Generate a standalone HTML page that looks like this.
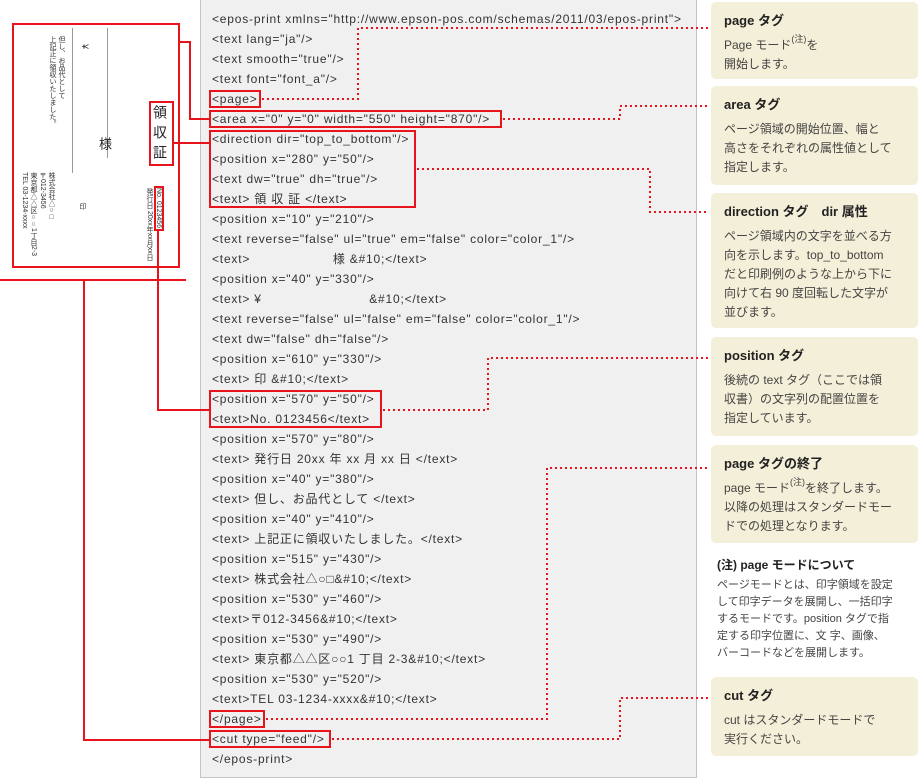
<!DOCTYPE html>
<html><head><meta charset="utf-8"><style>
*{margin:0;padding:0;box-sizing:border-box}
body{width:920px;height:779px;background:#fff;position:relative;overflow:hidden;font-family:"Liberation Sans","Noto Sans CJK JP",sans-serif;color:#333}
.code{position:absolute;left:200px;top:-2px;width:497px;height:780px;background:#f0f0f0;border:1px solid #c4c4c4}
.ln{position:absolute;left:212px;font-size:12px;letter-spacing:0.8px;line-height:14px;color:#333;white-space:pre}
.box{position:absolute;left:711px;width:207px;background:#f4efd8;border-radius:5px;padding:10px 0 0 13px}
.box h4{font-size:13px;font-weight:bold;color:#222;margin-bottom:6px;line-height:18px}
.box p{font-size:12px;line-height:19px;color:#444}
sup{font-size:9px;vertical-align:top;line-height:0;position:relative;top:3px}
.v{position:absolute;writing-mode:vertical-rl;font-size:7px;color:#333;line-height:9px}
</style></head><body>
<div class="code"></div>
<div class="ln" style="top:12px">&lt;epos-print xmlns="http://www.epson-pos.com/schemas/2011/03/epos-print"&gt;</div>
<div class="ln" style="top:32px">&lt;text lang="ja"/&gt;</div>
<div class="ln" style="top:52px">&lt;text smooth="true"/&gt;</div>
<div class="ln" style="top:72px">&lt;text font="font_a"/&gt;</div>
<div class="ln" style="top:92px">&lt;page&gt;</div>
<div class="ln" style="top:112px">&lt;area x="0" y="0" width="550" height="870"/&gt;</div>
<div class="ln" style="top:132px">&lt;direction dir="top_to_bottom"/&gt;</div>
<div class="ln" style="top:152px">&lt;position x="280" y="50"/&gt;</div>
<div class="ln" style="top:172px">&lt;text dw="true" dh="true"/&gt;</div>
<div class="ln" style="top:192px">&lt;text&gt; 領 収 証 &lt;/text&gt;</div>
<div class="ln" style="top:212px">&lt;position x="10" y="210"/&gt;</div>
<div class="ln" style="top:232px">&lt;text reverse="false" ul="true" em="false" color="color_1"/&gt;</div>
<div class="ln" style="top:252px">&lt;text&gt;                    様 &amp;#10;&lt;/text&gt;</div>
<div class="ln" style="top:272px">&lt;position x="40" y="330"/&gt;</div>
<div class="ln" style="top:292px">&lt;text&gt; ¥                          &amp;#10;&lt;/text&gt;</div>
<div class="ln" style="top:312px">&lt;text reverse="false" ul="false" em="false" color="color_1"/&gt;</div>
<div class="ln" style="top:332px">&lt;text dw="false" dh="false"/&gt;</div>
<div class="ln" style="top:352px">&lt;position x="610" y="330"/&gt;</div>
<div class="ln" style="top:372px">&lt;text&gt; 印 &amp;#10;&lt;/text&gt;</div>
<div class="ln" style="top:392px">&lt;position x="570" y="50"/&gt;</div>
<div class="ln" style="top:412px">&lt;text&gt;No. 0123456&lt;/text&gt;</div>
<div class="ln" style="top:432px">&lt;position x="570" y="80"/&gt;</div>
<div class="ln" style="top:452px">&lt;text&gt; 発行日 20xx 年 xx 月 xx 日 &lt;/text&gt;</div>
<div class="ln" style="top:472px">&lt;position x="40" y="380"/&gt;</div>
<div class="ln" style="top:492px">&lt;text&gt; 但し、お品代として &lt;/text&gt;</div>
<div class="ln" style="top:512px">&lt;position x="40" y="410"/&gt;</div>
<div class="ln" style="top:532px">&lt;text&gt; 上記正に領収いたしました。&lt;/text&gt;</div>
<div class="ln" style="top:552px">&lt;position x="515" y="430"/&gt;</div>
<div class="ln" style="top:572px">&lt;text&gt; 株式会社△○□&amp;#10;&lt;/text&gt;</div>
<div class="ln" style="top:592px">&lt;position x="530" y="460"/&gt;</div>
<div class="ln" style="top:612px">&lt;text&gt;〒012-3456&amp;#10;&lt;/text&gt;</div>
<div class="ln" style="top:632px">&lt;position x="530" y="490"/&gt;</div>
<div class="ln" style="top:652px">&lt;text&gt; 東京都△△区○○1 丁目 2-3&amp;#10;&lt;/text&gt;</div>
<div class="ln" style="top:672px">&lt;position x="530" y="520"/&gt;</div>
<div class="ln" style="top:692px">&lt;text&gt;TEL 03-1234-xxxx&amp;#10;&lt;/text&gt;</div>
<div class="ln" style="top:712px">&lt;/page&gt;</div>
<div class="ln" style="top:732px">&lt;cut type="feed"/&gt;</div>
<div class="ln" style="top:752px">&lt;/epos-print&gt;</div>

<div class="v" style="left:150px;top:105px;font-size:14px;line-height:20px;letter-spacing:6px;color:#222">領収証</div>
<div style="position:absolute;left:107px;top:28px;width:1px;height:130px;background:#999"></div>
<div class="v" style="left:100px;top:137px;font-size:13px;color:#222">様</div>
<div style="position:absolute;left:72px;top:28px;width:1px;height:145px;background:#999"></div>
<div class="v" style="left:80px;top:44px;font-size:9px">¥</div>
<div class="v" style="left:48px;top:36px;width:18px">但し、お品代として<br>上記正に領収いたしました。</div>
<div class="v" style="left:78px;top:203px">印</div>
<div class="v" style="left:145px;top:188px;width:18px">No. 0123456<br>発行日 20xx年xx月xx日</div>
<div class="v" style="left:20px;top:172px;width:36px">株式会社△○□<br>〒012-3456<br>東京都△△区○○1丁目2-3<br>TEL 03-1234-xxxx</div>

<svg width="920" height="779" style="position:absolute;left:0;top:0">
<g fill="none" stroke="#e8141c" stroke-width="2">
<rect x="13" y="24" width="166" height="243"/>
<rect x="150" y="102" width="23" height="63"/>
<rect x="155" y="187" width="8" height="43"/>
<polyline points="179,42 190,42 190,119 211,119"/>
<polyline points="173,143 211,143"/>
<line x1="0" y1="280" x2="186" y2="280"/>
<polyline points="158,230 158,410 211,410"/>
<polyline points="84,280 84,740 211,740"/>
<rect x="210" y="91" width="50" height="16"/>
<rect x="210" y="111" width="291" height="16"/>
<rect x="210" y="131" width="205" height="76"/>
<rect x="210" y="391" width="171" height="36"/>
<rect x="210" y="711" width="54" height="16"/>
<rect x="210" y="731" width="120" height="16"/>
</g>
<g fill="none" stroke="#e8141c" stroke-width="2" stroke-dasharray="2,3">
<polyline points="262,99 358,99 358,28 708,28"/>
<polyline points="503,119 620,119 620,106 708,106"/>
<polyline points="417,169 650,169 650,212 708,212"/>
<polyline points="383,410 488,410 488,358 708,358"/>
<polyline points="266,719 547,719 547,468 708,468"/>
<polyline points="332,739 620,739 620,698 708,698"/>
</g>
</svg>

<div class="box" style="top:2px;height:77px"><h4>page タグ</h4><p>Page モード<sup>(注)</sup>を<br>開始します。</p></div>
<div class="box" style="top:86px;height:99px"><h4>area タグ</h4><p>ページ領域の開始位置、幅と<br>高さをそれぞれの属性値として<br>指定します。</p></div>
<div class="box" style="top:193px;height:135px"><h4>direction タグ　dir 属性</h4><p>ページ領域内の文字を並べる方<br>向を示します。top_to_bottom<br>だと印刷例のような上から下に<br>向けて右 90 度回転した文字が<br>並びます。</p></div>
<div class="box" style="top:337px;height:99px"><h4>position タグ</h4><p>後続の text タグ（ここでは領<br>収書）の文字列の配置位置を<br>指定しています。</p></div>
<div class="box" style="top:445px;height:98px"><h4>page タグの終了</h4><p>page モード<sup>(注)</sup>を終了します。<br>以降の処理はスタンダードモー<br>ドでの処理となります。</p></div>
<div style="position:absolute;left:717px;top:556px;width:203px">
<div style="font-size:12px;font-weight:bold;color:#222;margin-bottom:4px">(注) page モードについて</div>
<div style="font-size:11px;line-height:17px;color:#444">ページモードとは、印字領域を設定<br>して印字データを展開し、一括印字<br>するモードです。position タグで指<br>定する印字位置に、文 字、画像、<br>バーコードなどを展開します。</div></div>
<div class="box" style="top:677px;height:79px"><h4>cut タグ</h4><p>cut はスタンダードモードで<br>実行ください。</p></div>
</body></html>
